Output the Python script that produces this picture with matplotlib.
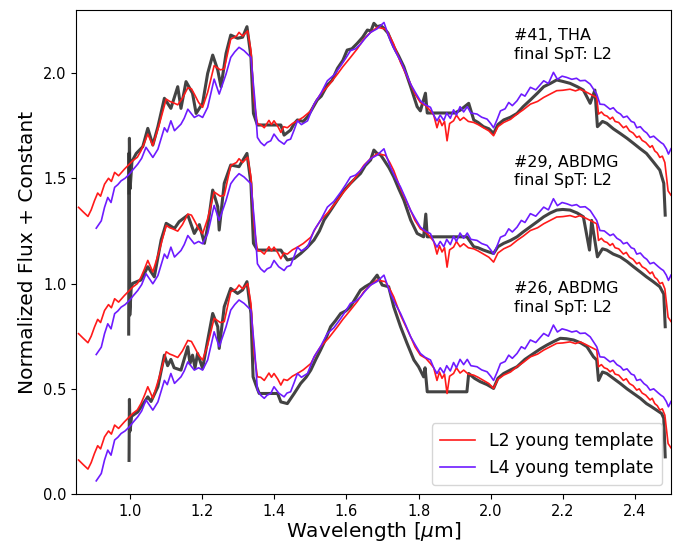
import numpy as np
import matplotlib
matplotlib.use('Agg')
import matplotlib.pyplot as plt

# Шаблоны (нижняя панель, без сдвига): (длина волны, поток).
l2_template = [
    (0.857, 0.162), (0.870, 0.140), (0.883, 0.119), (0.892, 0.150), (0.901, 0.193),
    (0.910, 0.230), (0.918, 0.215), (0.929, 0.272), (0.940, 0.300), (0.948, 0.285),
    (0.957, 0.328), (0.968, 0.312), (0.984, 0.343), (1.007, 0.383), (1.020, 0.400),
    (1.030, 0.430), (1.040, 0.470), (1.049, 0.510), (1.063, 0.455), (1.081, 0.557),
    (1.100, 0.676), (1.110, 0.665), (1.118, 0.660), (1.132, 0.649), (1.145, 0.680),
    (1.160, 0.730), (1.170, 0.725), (1.178, 0.700), (1.190, 0.660), (1.201, 0.637),
    (1.215, 0.708), (1.233, 0.835), (1.250, 0.815), (1.261, 0.819), (1.279, 0.961),
    (1.295, 0.975), (1.302, 0.993), (1.312, 0.975), (1.326, 1.000), (1.335, 0.906),
    (1.344, 0.668), (1.353, 0.557), (1.362, 0.555), (1.372, 0.540), (1.385, 0.575),
    (1.392, 0.555), (1.399, 0.573), (1.410, 0.545), (1.418, 0.518), (1.426, 0.545),
    (1.436, 0.540), (1.450, 0.560), (1.464, 0.573), (1.480, 0.590), (1.501, 0.620),
    (1.515, 0.665), (1.528, 0.700), (1.550, 0.740), (1.575, 0.795), (1.590, 0.830),
    (1.611, 0.874), (1.630, 0.915), (1.648, 0.961), (1.665, 0.990), (1.685, 1.017),
    (1.708, 1.009), (1.720, 0.975), (1.731, 0.937), (1.750, 0.850), (1.765, 0.795),
    (1.778, 0.747), (1.790, 0.700), (1.805, 0.660), (1.820, 0.645), (1.833, 0.620),
    (1.842, 0.600), (1.851, 0.540), (1.858, 0.580), (1.865, 0.550), (1.872, 0.570),
    (1.879, 0.478), (1.886, 0.560), (1.897, 0.573), (1.905, 0.600), (1.915, 0.575),
    (1.925, 0.589), (1.938, 0.570), (1.953, 0.565), (1.965, 0.555), (1.980, 0.540),
    (1.995, 0.525), (2.008, 0.502), (2.020, 0.545), (2.036, 0.565), (2.055, 0.580),
    (2.073, 0.605), (2.090, 0.625), (2.110, 0.652), (2.130, 0.665), (2.147, 0.684),
    (2.165, 0.700), (2.183, 0.716), (2.200, 0.718), (2.220, 0.723), (2.235, 0.715),
    (2.248, 0.723), (2.262, 0.712), (2.276, 0.700), (2.294, 0.684), (2.299, 0.605),
    (2.307, 0.615), (2.315, 0.600), (2.323, 0.595), (2.331, 0.581), (2.338, 0.590),
    (2.345, 0.570), (2.355, 0.565), (2.368, 0.540), (2.376, 0.548), (2.385, 0.525),
    (2.395, 0.515), (2.405, 0.494), (2.412, 0.500), (2.420, 0.480), (2.430, 0.470),
    (2.442, 0.447), (2.448, 0.455), (2.455, 0.430), (2.462, 0.420), (2.469, 0.399),
    (2.476, 0.405), (2.483, 0.375), (2.492, 0.240), (2.500, 0.220),
]

l4_template = [
    (0.906, 0.063), (0.920, 0.098), (0.929, 0.162), (0.938, 0.209), (0.947, 0.185),
    (0.957, 0.257), (0.966, 0.270), (0.975, 0.288), (0.986, 0.300), (0.998, 0.320),
    (1.010, 0.345), (1.021, 0.367), (1.032, 0.395), (1.044, 0.447), (1.063, 0.399),
    (1.077, 0.438), (1.095, 0.540), (1.103, 0.520), (1.113, 0.573), (1.123, 0.526),
    (1.141, 0.557), (1.150, 0.585), (1.160, 0.628), (1.178, 0.589), (1.190, 0.600),
    (1.201, 0.589), (1.215, 0.637), (1.233, 0.771), (1.247, 0.700), (1.266, 0.795),
    (1.279, 0.874), (1.290, 0.900), (1.302, 0.922), (1.316, 0.906), (1.335, 0.874),
    (1.346, 0.670), (1.353, 0.494), (1.362, 0.470), (1.372, 0.455), (1.380, 0.470),
    (1.390, 0.478), (1.399, 0.510), (1.412, 0.480), (1.427, 0.462), (1.435, 0.480),
    (1.445, 0.486), (1.455, 0.530), (1.464, 0.573), (1.475, 0.555), (1.492, 0.573),
    (1.510, 0.652), (1.528, 0.700), (1.547, 0.763), (1.565, 0.790), (1.584, 0.834),
    (1.598, 0.870), (1.611, 0.906), (1.625, 0.915), (1.639, 0.937), (1.652, 0.965),
    (1.667, 0.993), (1.685, 1.010), (1.704, 1.040), (1.712, 1.000), (1.722, 0.953),
    (1.735, 0.905), (1.750, 0.858), (1.765, 0.800), (1.778, 0.747), (1.792, 0.705),
    (1.805, 0.668), (1.818, 0.650), (1.833, 0.637), (1.842, 0.600), (1.851, 0.573),
    (1.860, 0.600), (1.870, 0.575), (1.878, 0.610), (1.888, 0.585), (1.897, 0.625),
    (1.905, 0.600), (1.915, 0.640), (1.925, 0.615), (1.935, 0.640), (1.945, 0.610),
    (1.962, 0.605), (1.975, 0.590), (1.990, 0.581), (2.000, 0.560), (2.008, 0.540),
    (2.018, 0.580), (2.027, 0.620), (2.040, 0.630), (2.050, 0.660), (2.060, 0.645),
    (2.073, 0.668), (2.085, 0.700), (2.095, 0.690), (2.110, 0.732), (2.125, 0.720),
    (2.147, 0.763), (2.160, 0.750), (2.174, 0.803), (2.185, 0.770), (2.198, 0.785),
    (2.211, 0.779), (2.225, 0.770), (2.238, 0.775), (2.248, 0.763), (2.262, 0.765),
    (2.276, 0.747), (2.294, 0.700), (2.303, 0.652), (2.315, 0.650), (2.331, 0.628),
    (2.340, 0.635), (2.350, 0.615), (2.360, 0.605), (2.368, 0.589), (2.378, 0.595),
    (2.390, 0.570), (2.398, 0.565), (2.405, 0.540), (2.415, 0.545), (2.425, 0.525),
    (2.433, 0.515), (2.442, 0.494), (2.452, 0.500), (2.465, 0.480), (2.472, 0.470),
    (2.479, 0.462), (2.487, 0.440), (2.493, 0.415), (2.500, 0.440),
]

# Наблюдаемые спектры (уже со сдвигом).
obs_41 = [
    (0.997, 1.43), (0.998, 1.69), (1.000, 1.45), (1.005, 1.58), (1.017, 1.618),
    (1.035, 1.650), (1.049, 1.737), (1.063, 1.658), (1.077, 1.745), (1.095, 1.880),
    (1.113, 1.832), (1.132, 1.935), (1.141, 1.832), (1.155, 1.959), (1.173, 1.904),
    (1.183, 1.808), (1.201, 1.856), (1.215, 1.998), (1.229, 2.085), (1.243, 2.014),
    (1.252, 1.935), (1.266, 2.093), (1.279, 2.180), (1.298, 2.165), (1.312, 2.170),
    (1.324, 2.220), (1.335, 2.077), (1.342, 1.808), (1.353, 1.753), (1.418, 1.753),
    (1.427, 1.705), (1.445, 1.729), (1.455, 1.760), (1.464, 1.777), (1.480, 1.770),
    (1.492, 1.792), (1.505, 1.830), (1.519, 1.872), (1.530, 1.890), (1.547, 1.943),
    (1.560, 1.965), (1.575, 2.022), (1.590, 2.060), (1.602, 2.109), (1.615, 2.115),
    (1.630, 2.141), (1.645, 2.170), (1.658, 2.204), (1.668, 2.200), (1.676, 2.236),
    (1.685, 2.220), (1.695, 2.225), (1.704, 2.212), (1.715, 2.190), (1.731, 2.125),
    (1.745, 2.080), (1.759, 2.030), (1.778, 1.935), (1.796, 1.840), (1.805, 1.820),
    (1.819, 1.904), (1.824, 1.810), (1.900, 1.810), (1.916, 1.824), (1.939, 1.856),
    (1.953, 1.777), (1.965, 1.765), (1.980, 1.745), (1.995, 1.735), (2.008, 1.713),
    (2.020, 1.755), (2.036, 1.777), (2.055, 1.790), (2.073, 1.808), (2.090, 1.840),
    (2.110, 1.872), (2.130, 1.905), (2.147, 1.935), (2.165, 1.950), (2.183, 1.967),
    (2.200, 1.960), (2.220, 1.951), (2.240, 1.935), (2.257, 1.919), (2.276, 1.856),
    (2.289, 1.919), (2.296, 1.745), (2.310, 1.770), (2.322, 1.761), (2.340, 1.735),
    (2.359, 1.713), (2.378, 1.690), (2.396, 1.666), (2.415, 1.640), (2.432, 1.618),
    (2.450, 1.580), (2.469, 1.539), (2.480, 1.476), (2.484, 1.325),
]

obs_29 = [
    (0.996, 0.76), (0.997, 1.62), (0.999, 0.85), (1.003, 0.98), (1.007, 1.001),
    (1.030, 1.017), (1.049, 1.080), (1.067, 1.032), (1.086, 1.207), (1.100, 1.286),
    (1.123, 1.262), (1.136, 1.294), (1.160, 1.325), (1.178, 1.238), (1.192, 1.280),
    (1.206, 1.191), (1.215, 1.270), (1.229, 1.444), (1.243, 1.365), (1.247, 1.254),
    (1.261, 1.476), (1.279, 1.563), (1.302, 1.555), (1.324, 1.618), (1.335, 1.476),
    (1.342, 1.191), (1.353, 1.159), (1.418, 1.159), (1.436, 1.112), (1.455, 1.119),
    (1.473, 1.143), (1.490, 1.170), (1.510, 1.207), (1.525, 1.250), (1.538, 1.302),
    (1.555, 1.345), (1.575, 1.397), (1.592, 1.440), (1.611, 1.476), (1.625, 1.500),
    (1.639, 1.523), (1.652, 1.560), (1.667, 1.587), (1.676, 1.634), (1.685, 1.618),
    (1.695, 1.610), (1.704, 1.587), (1.718, 1.550), (1.731, 1.507), (1.745, 1.450),
    (1.759, 1.397), (1.778, 1.302), (1.796, 1.238), (1.814, 1.222), (1.820, 1.330),
    (1.824, 1.222), (1.934, 1.222), (1.953, 1.175), (1.965, 1.170), (1.980, 1.159),
    (1.995, 1.150), (2.008, 1.143), (2.020, 1.175), (2.036, 1.191), (2.055, 1.205),
    (2.073, 1.222), (2.090, 1.245), (2.110, 1.270), (2.130, 1.295), (2.147, 1.317),
    (2.165, 1.335), (2.183, 1.349), (2.200, 1.352), (2.220, 1.349), (2.240, 1.335),
    (2.257, 1.317), (2.274, 1.159), (2.280, 1.300), (2.296, 1.127), (2.310, 1.165),
    (2.322, 1.159), (2.340, 1.140), (2.359, 1.127), (2.378, 1.105), (2.396, 1.080),
    (2.415, 1.055), (2.432, 1.032), (2.450, 1.010), (2.469, 0.985), (2.480, 0.950),
    (2.484, 0.795),
]

obs_26 = [
    (0.997, 0.16), (0.998, 0.45), (1.000, 0.30), (1.004, 0.37), (1.021, 0.390),
    (1.049, 0.462), (1.058, 0.440), (1.077, 0.510), (1.095, 0.660), (1.104, 0.610),
    (1.113, 0.640), (1.122, 0.600), (1.141, 0.589), (1.160, 0.700), (1.166, 0.620),
    (1.173, 0.660), (1.180, 0.600), (1.187, 0.668), (1.201, 0.597), (1.215, 0.730),
    (1.229, 0.858), (1.243, 0.795), (1.247, 0.692), (1.261, 0.890), (1.279, 0.977),
    (1.298, 0.953), (1.312, 0.970), (1.324, 1.009), (1.335, 0.858), (1.341, 0.557),
    (1.349, 0.518), (1.358, 0.478), (1.409, 0.478), (1.418, 0.438), (1.436, 0.430),
    (1.455, 0.478), (1.473, 0.526), (1.488, 0.555), (1.501, 0.589), (1.515, 0.640),
    (1.528, 0.684), (1.542, 0.735), (1.556, 0.795), (1.570, 0.825), (1.584, 0.858),
    (1.598, 0.870), (1.611, 0.890), (1.625, 0.930), (1.639, 0.969), (1.652, 0.985),
    (1.667, 1.000), (1.685, 1.040), (1.699, 0.993), (1.717, 0.985), (1.731, 0.890),
    (1.750, 0.795), (1.768, 0.716), (1.787, 0.637), (1.800, 0.605), (1.814, 0.557),
    (1.818, 0.600), (1.824, 0.486), (1.934, 0.486), (1.939, 0.573), (1.955, 0.550),
    (1.971, 0.534), (1.990, 0.520), (2.008, 0.502), (2.020, 0.550), (2.036, 0.573),
    (2.055, 0.590), (2.073, 0.605), (2.095, 0.640), (2.119, 0.668), (2.138, 0.690),
    (2.156, 0.708), (2.175, 0.725), (2.193, 0.740), (2.210, 0.738), (2.230, 0.732),
    (2.250, 0.718), (2.267, 0.700), (2.285, 0.652), (2.294, 0.637), (2.299, 0.540),
    (2.310, 0.580), (2.322, 0.573), (2.340, 0.550), (2.359, 0.526), (2.378, 0.500),
    (2.396, 0.478), (2.415, 0.455), (2.432, 0.430), (2.446, 0.415), (2.460, 0.399),
    (2.474, 0.383), (2.480, 0.360), (2.484, 0.177),
]

objects = ['#41, THA', '#29, ABDMG', '#26, ABDMG']
final_spt = ['L2', 'L2', 'L2']
offsets = [1.2, 0.6, 0.0]
observed = [obs_41, obs_29, obs_26]

x_ticks = [1.0, 1.2, 1.4, 1.6, 1.8, 2.0, 2.2, 2.4]
y_ticks = [0.0, 0.5, 1.0, 1.5, 2.0]

red = '#ff1a1a'
purple = '#6e1bff'

fig = plt.figure(figsize=(6.73, 5.46), dpi=100)
ax = fig.add_axes([0.113, 0.095, 0.884, 0.887])

l2 = np.array(l2_template)
l4 = np.array(l4_template)

for i in range(len(objects)):
    obs = np.array(observed[i])
    ax.plot(obs[:, 0], obs[:, 1], color='#333333', lw=2.2, alpha=0.92, zorder=1)
    ax.plot(l2[:, 0], l2[:, 1] + offsets[i], color=red, lw=1.2, zorder=2,
            label='L2 young template' if i == 0 else None)
    ax.plot(l4[:, 0], l4[:, 1] + offsets[i], color=purple, lw=1.2, zorder=3,
            label='L4 young template' if i == 0 else None)
    ax.text(2.066, offsets[i] + 1.012, objects[i] + '\nfinal SpT: ' + final_spt[i],
            fontsize=11.5, va='top', ha='left', linespacing=1.3)

ax.set_xlim(0.85, 2.5)
ax.set_ylim(0.0, 2.3)
ax.set_xticks(x_ticks)
ax.set_yticks(y_ticks)
ax.tick_params(labelsize=10.5)
ax.set_xlabel(r'Wavelength [$\mu$m]', fontsize=14.5, labelpad=1)
ax.set_ylabel('Normalized Flux + Constant', fontsize=14.5)

ax.legend(loc='lower right', fontsize=12.5, handlelength=2.0, borderpad=0.5)

fig.savefig('out.png', dpi=100)
